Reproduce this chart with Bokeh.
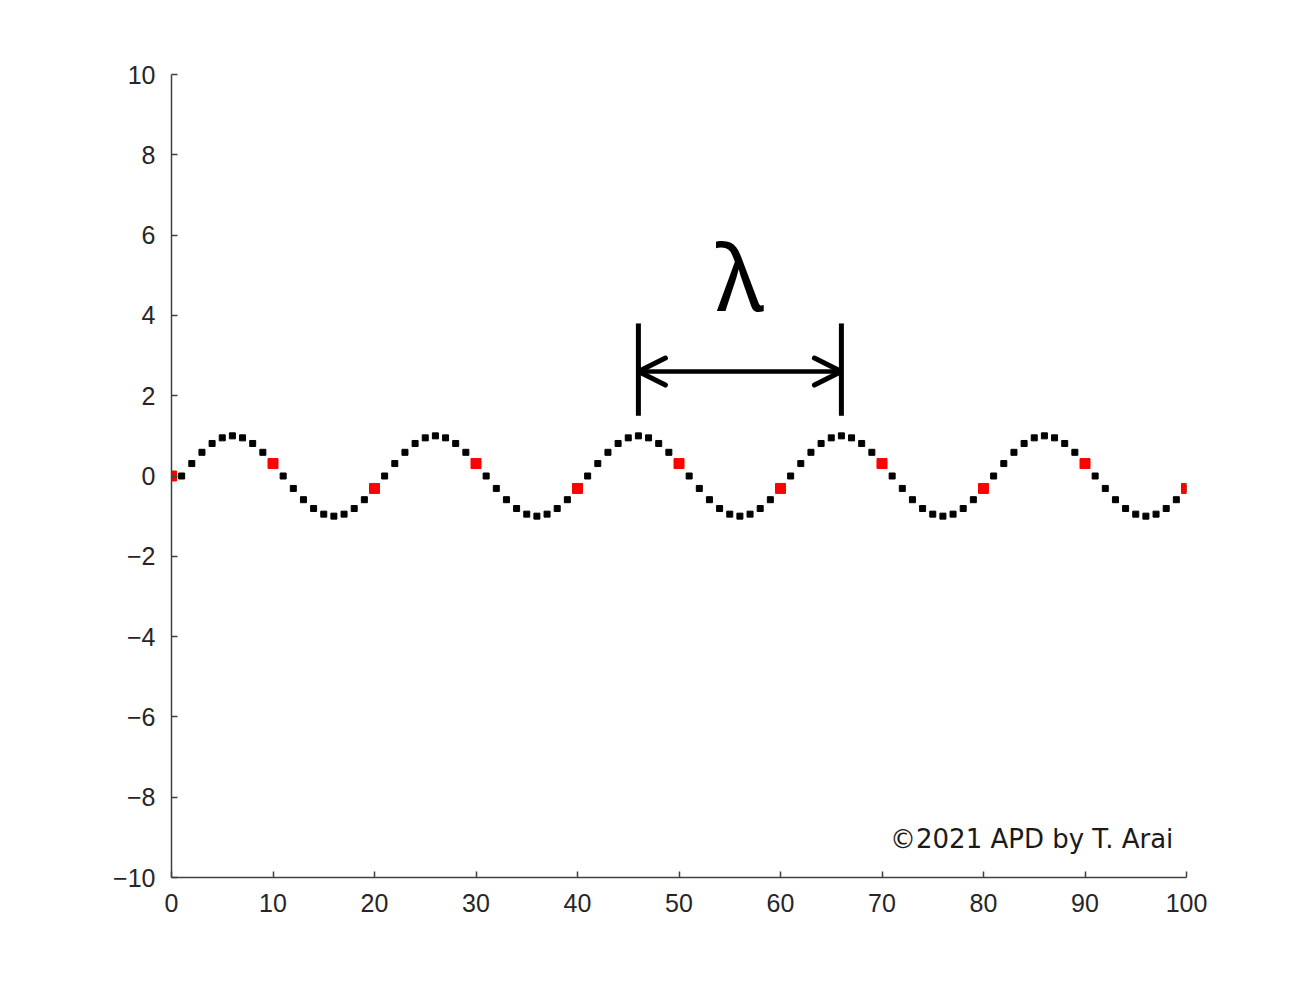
from bokeh.plotting import figure
from bokeh.models import Range1d, FixedTicker, Arrow, OpenHead, Label, ColumnDataSource
from bokeh.embed import file_html
from bokeh.resources import INLINE

# ---- data ----
wave_x = list(range(0, 101))
wave_y = [0,
          0, 0.31, 0.59, 0.81, 0.95, 1.0, 0.95, 0.81, 0.59, 0.31,
          0, -0.31, -0.59, -0.81, -0.95, -1.0, -0.95, -0.81, -0.59, -0.31,
          0, 0.31, 0.59, 0.81, 0.95, 1.0, 0.95, 0.81, 0.59, 0.31,
          0, -0.31, -0.59, -0.81, -0.95, -1.0, -0.95, -0.81, -0.59, -0.31,
          0, 0.31, 0.59, 0.81, 0.95, 1.0, 0.95, 0.81, 0.59, 0.31,
          0, -0.31, -0.59, -0.81, -0.95, -1.0, -0.95, -0.81, -0.59, -0.31,
          0, 0.31, 0.59, 0.81, 0.95, 1.0, 0.95, 0.81, 0.59, 0.31,
          0, -0.31, -0.59, -0.81, -0.95, -1.0, -0.95, -0.81, -0.59, -0.31,
          0, 0.31, 0.59, 0.81, 0.95, 1.0, 0.95, 0.81, 0.59, 0.31,
          0, -0.31, -0.59, -0.81, -0.95, -1.0, -0.95, -0.81, -0.59, -0.31]
marked_x = [0, 10, 20, 30, 40, 50, 60, 70, 80, 90, 100]
marked_y = [0, 0.31, -0.31, 0.31, -0.31, 0.31, -0.31, 0.31, -0.31, 0.31, -0.31]
x_ticks = [0, 10, 20, 30, 40, 50, 60, 70, 80, 90, 100]
y_ticks = [-10, -8, -6, -4, -2, 0, 2, 4, 6, 8, 10]
lambda_start, lambda_end = 46, 66
bar_low, bar_high = 1.5, 3.8
arrow_y = 2.6
lambda_label = "λ"
credit = "©2021 APD by T. Arai"

TICK_FONT = "Liberation Sans"
AXIS_COLOR = "#404040"

p = figure(width=1296, height=969, output_backend="svg", toolbar_location=None,
           x_range=Range1d(0, 100), y_range=Range1d(-10, 10),
           min_border_left=171, min_border_top=74, min_border_right=110,
           min_border_bottom=92)
p.outline_line_color = None
p.xgrid.visible = False
p.ygrid.visible = False

for ax, ticks in ((p.xaxis[0], x_ticks), (p.yaxis[0], y_ticks)):
    ax.ticker = FixedTicker(ticks=ticks)
    ax.major_tick_in = 6
    ax.major_tick_out = 0
    ax.minor_tick_line_color = None
    ax.axis_line_color = AXIS_COLOR
    ax.axis_line_width = 1.5
    ax.major_tick_line_color = AXIS_COLOR
    ax.major_tick_line_width = 1.5
    ax.major_label_text_font = TICK_FONT
    ax.major_label_text_font_size = "25px"
    ax.major_label_text_color = "#262626"
p.xaxis[0].major_label_standoff = 16
p.yaxis[0].major_label_standoff = 16
p.yaxis[0].major_label_overrides = {t: (str(t).replace("-", "\u2212")) for t in y_ticks}

src = ColumnDataSource(dict(x=wave_x, y=wave_y))
p.scatter("x", "y", source=src, marker="square", size=6, color="black")
p.scatter(marked_x, marked_y, marker="square", size=10, color="#ff0000")

# wavelength bars and arrow
p.segment(x0=[lambda_start, lambda_end], y0=[bar_low, bar_low],
          x1=[lambda_start, lambda_end], y1=[bar_high, bar_high],
          line_width=5, line_color="black")
p.add_layout(Arrow(x_start=lambda_start, y_start=arrow_y, x_end=lambda_end, y_end=arrow_y,
                   line_width=4.5, line_color="black",
                   start=OpenHead(size=27, line_width=5, line_color="black", line_cap="round"),
                   end=OpenHead(size=27, line_width=5, line_color="black", line_cap="round")))
p.add_layout(Label(x=(lambda_start + lambda_end) / 2, y=5.0, text=lambda_label,
                   text_align="center", text_baseline="middle",
                   text_font="Noto Sans", text_font_size="92px", text_color="black"))
p.add_layout(Label(x=98.7, y=-9.05, text=credit, text_align="right",
                   text_baseline="alphabetic", text_font="DejaVu Sans",
                   text_font_size="26px", text_color="#1a1a1a"))

open("out.html", "w").write(file_html(p, INLINE))
